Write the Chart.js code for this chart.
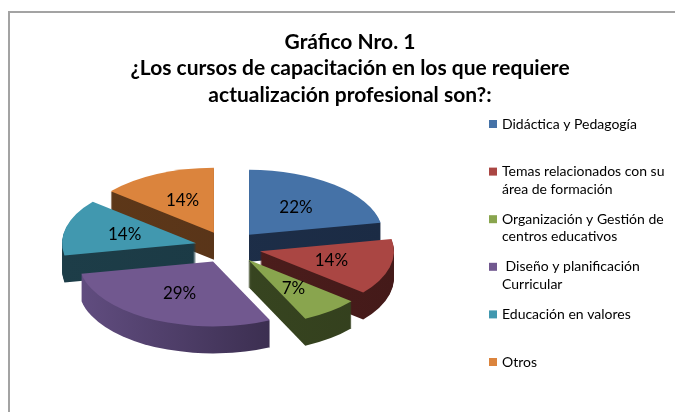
<!DOCTYPE html>
<html>
<head>
<meta charset="utf-8">
<script src="https://cdn.jsdelivr.net/npm/chart.js@4.4.0/dist/chart.umd.min.js"></script>
<style>
    html, body { margin: 0; padding: 0; background: #fff; overflow: hidden; }
    #pieChart { position: absolute; left: 0; top: 0; }
    #frame { position: absolute; left: 8px; top: 11px; width: 720px; height: 430px; border: 2px solid #a3a3a3; pointer-events: none; }
</style>
</head>
<body>
<canvas id="pieChart" width="675" height="412"></canvas>
<div id="frame"></div>
<script>
const titleLines = ['Gráfico Nro. 1', '¿Los cursos de capacitación en los que requiere', 'actualización profesional son?:'];

const categories = [
    ['Didáctica y Pedagogía'],
    ['Temas relacionados con su', 'área de formación'],
    ['Organización y Gestión de', 'centros educativos'],
    [' Diseño y planificación', 'Curricular'],
    ['Educación en valores'],
    ['Otros']
];

const percentages = [22, 14, 7, 29, 14, 14];

const topColors = ['#4572A7', '#AA4643', '#89A54E', '#71588F', '#4198AF', '#DB843D'];
const sideLightColors = ['#1e304b', '#521f1e', '#3b4a23', '#614d80', '#1d3d48', '#5e3818'];
const sideDarkColors = ['#1b2b44', '#441a19', '#333f1d', '#2d233e', '#1a3843', '#55321a'];

const squash = 0.485;
const depth = 27;

//Builds the path of one slice, squashed to an ellipse and moved down by dy.
function slicePath(ctx, arc, dy) {
    const mid = (arc.startAngle + arc.endAngle) / 2;
    const off = arc.options.offset || 0;
    const cx = arc.x + Math.cos(mid) * off;
    const cy = arc.y + Math.sin(mid) * off * squash;
    ctx.save();
    ctx.translate(cx, cy + dy);
    ctx.scale(1, squash);
    ctx.beginPath();
    ctx.moveTo(0, 0);
    ctx.arc(0, 0, arc.outerRadius, arc.startAngle, arc.endAngle);
    ctx.closePath();
    ctx.restore();
    return cx;
}

const pie3d = {
    id: 'pie3d',
    beforeDatasetsDraw(chart) {
        const ctx = chart.ctx;
        const arcs = chart.getDatasetMeta(0).data;

        //Sides first, from the back of the pie to the front.
        const order = arcs.map(function (arc, i) { return i; });
        order.sort(function (a, b) {
            return Math.sin((arcs[a].startAngle + arcs[a].endAngle) / 2) - Math.sin((arcs[b].startAngle + arcs[b].endAngle) / 2);
        });

        order.forEach(function (i) {
            const arc = arcs[i];
            for (let d = depth; d >= 1; d--) {
                const cx = slicePath(ctx, arc, d);
                const grad = ctx.createLinearGradient(cx - arc.outerRadius, 0, cx + arc.outerRadius, 0);
                grad.addColorStop(0, sideLightColors[i]);
                grad.addColorStop(1, sideDarkColors[i]);
                ctx.fillStyle = grad;
                ctx.fill();
            }
        });

        //Then the top faces.
        arcs.forEach(function (arc, i) {
            slicePath(ctx, arc, 0);
            ctx.fillStyle = topColors[i];
            ctx.fill();
        });

        return false;
    }
};

const pctLabels = {
    id: 'pctLabels',
    afterDraw(chart) {
        const ctx = chart.ctx;
        const arcs = chart.getDatasetMeta(0).data;
        const total = percentages.reduce(function (a, b) { return a + b; }, 0);
        ctx.save();
        ctx.font = '17px Lato';
        ctx.fillStyle = '#000';
        ctx.textAlign = 'center';
        ctx.textBaseline = 'middle';
        arcs.forEach(function (arc, i) {
            const mid = (arc.startAngle + arc.endAngle) / 2;
            const r = (arc.options.offset || 0) + arc.outerRadius * 0.55;
            const x = arc.x + Math.cos(mid) * r;
            const y = arc.y + Math.sin(mid) * r * squash;
            ctx.fillText(Math.round(percentages[i] / total * 100) + '%', x, y);
        });
        ctx.restore();
    }
};

//Right hand box that keeps room for the legend and draws it.
const sideLegend = {
    id: 'sideLegend',
    beforeInit(chart) {
        const box = {
            position: 'right',
            weight: 0,
            fullSize: false,
            options: {},
            isHorizontal() { return false; },
            update(maxWidth, maxHeight) {
                this.width = 244;
                this.height = maxHeight;
            },
            draw() {
                const ctx = chart.ctx;
                ctx.save();
                ctx.font = '14px Lato';
                ctx.textBaseline = 'middle';
                ctx.textAlign = 'left';
                categories.forEach(function (lines, i) {
                    const y = 124 + i * 47.6;
                    ctx.fillStyle = topColors[i];
                    ctx.fillRect(box.left + 58, y - 4, 8, 8);
                    ctx.fillStyle = '#000';
                    lines.forEach(function (line, j) {
                        ctx.fillText(line, box.left + 71, y + j * 17.5);
                    });
                });
                ctx.restore();
            }
        };
        Chart.layouts.addBox(chart, box);
    }
};

function initChart() {
    var pieChartControl = document.getElementById('pieChart');

    new Chart(pieChartControl, {
        type: 'pie',
        data: {
            labels: categories.map(function (lines) { return lines.join(' ').trim(); }),
            datasets: [{
                data: percentages,
                backgroundColor: topColors,
                borderWidth: 0,
                offset: 33
            }]
        },
        options: {
            responsive: false,
            animation: false,
            radius: 134,
            layout: {
                padding: { left: 25, right: 0, top: 29, bottom: 30 }
            },
            plugins: {
                legend: { display: false },
                tooltip: { enabled: false },
                title: {
                    display: true,
                    text: titleLines,
                    color: '#000',
                    font: { family: 'Lato', size: 21, weight: 'bold', lineHeight: 1.26 },
                    padding: { top: 0, bottom: 4 }
                }
            }
        },
        plugins: [sideLegend, pie3d, pctLabels]
    });
}

Promise.all([
    document.fonts.load('bold 21px Lato'),
    document.fonts.load('14px Lato')
]).then(initChart, initChart);
</script>
</body>
</html>
